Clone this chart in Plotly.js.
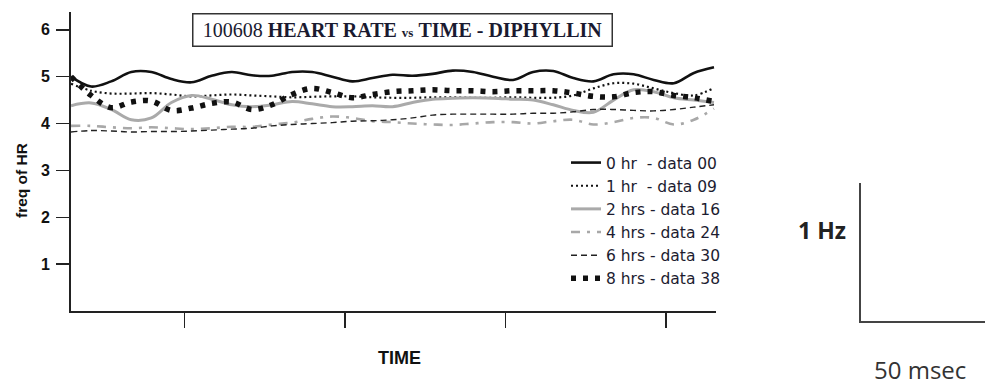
<!DOCTYPE html>
<html>
<head>
<meta charset="utf-8">
<script src="https://cdn.plot.ly/plotly-3.0.1.min.js"></script>
<style>
html,body{margin:0;padding:0;background:#fff;}
#chart{width:985px;height:385px;}
</style>
</head>
<body>
<div id="chart"></div>
<script>
// time samples (arbitrary units)
const time = [0,1,2,3,4,5,6,7,8,9,10,11,12,13,14,15,16,17,18,19,20,21,22,23,24,25,26,27,28,29,30,31,32];
const timeTicks = [5.66, 13.64, 21.62, 29.6];

const seriesNames = ["0 hr\u00a0\u00a0- data 00","1 hr\u00a0\u00a0- data 09","2 hrs - data 16","4 hrs - data 24","6 hrs - data 30","8 hrs - data 38"];

const hr0 = [5.0,4.79,4.9,5.1,5.1,4.95,4.88,5.02,5.1,5.03,5.02,5.1,5.1,5.0,4.9,4.97,5.04,5.02,5.06,5.13,5.1,5.0,4.93,5.1,5.12,4.97,4.9,5.05,5.05,4.93,4.86,5.08,5.2];
const hr1 = [4.85,4.7,4.64,4.64,4.65,4.62,4.58,4.6,4.62,4.6,4.58,4.56,4.57,4.58,4.58,4.56,4.55,4.55,4.56,4.56,4.55,4.55,4.56,4.55,4.55,4.6,4.75,4.86,4.85,4.75,4.65,4.6,4.76];
const hr2 = [4.38,4.44,4.3,4.08,4.12,4.45,4.6,4.52,4.4,4.36,4.4,4.47,4.42,4.36,4.36,4.38,4.36,4.45,4.52,4.54,4.55,4.54,4.52,4.5,4.4,4.28,4.24,4.5,4.72,4.68,4.55,4.5,4.45];
const hr4 = [3.95,3.95,3.92,3.9,3.92,3.9,3.88,3.9,3.93,3.93,3.98,4.02,4.1,4.15,4.12,4.05,4.03,4.0,3.98,3.97,4.0,4.03,4.03,4.0,4.05,4.08,3.98,4.03,4.12,4.12,3.98,4.08,4.32];
const hr6 = [3.82,3.85,3.84,3.82,3.83,3.83,3.84,3.86,3.88,3.9,3.95,3.98,4.0,4.02,4.05,4.06,4.08,4.12,4.18,4.2,4.2,4.2,4.2,4.22,4.22,4.25,4.3,4.3,4.28,4.27,4.3,4.35,4.4];
const hr8 = [5.0,4.6,4.34,4.46,4.48,4.28,4.33,4.43,4.46,4.3,4.4,4.62,4.75,4.66,4.55,4.62,4.68,4.7,4.72,4.7,4.7,4.68,4.7,4.7,4.7,4.65,4.58,4.57,4.66,4.68,4.6,4.55,4.47];

const yTicks = [1,2,3,4,5,6];

const styles = [
  {color:"#111111", width:2.6, dash:"solid"},
  {color:"#111111", width:2.2, dash:"2px,3px"},
  {color:"#aaaaaa", width:3, dash:"solid"},
  {color:"#a8a8a8", width:2.6, dash:"9px,7px,3px,7px"},
  {color:"#222222", width:1.4, dash:"6px,4px"},
  {color:"#111111", width:5.5, dash:"5px,7px"}
];
const allY = [hr0,hr1,hr2,hr4,hr6,hr8];
const traces = allY.map((y,i)=>({
  x: time, y: y, type:"scatter", mode:"lines", name: seriesNames[i],
  line: Object.assign({shape:"spline", smoothing:1}, styles[i]),
  hoverinfo:"skip"
}));

const px = v => (v-71)/645;   // helper for paper x
const py = v => (311-v)/299;  // helper for paper y

const ann = (x, y, text, font, extra) => Object.assign({
  xref:"paper", yref:"paper", x:px(x), y:py(y), xanchor:"center", yanchor:"middle",
  showarrow:false, text:text, font:font}, extra||{});

const layout = {
  width:985, height:385,
  margin:{l:71, r:269, t:12, b:74},
  paper_bgcolor:"#fff", plot_bgcolor:"#fff",
  showlegend:true,
  legend:{x:px(566), y:py(146), xanchor:"left", yanchor:"top",
    bgcolor:"rgba(0,0,0,0)", font:{family:"DejaVu Sans, Liberation Sans, Arial", size:15.5, color:"#1c1c30"},
    tracegroupgap:0, itemwidth:30},
  xaxis:{range:[0,32.1], showgrid:false, zeroline:false, showline:true, linecolor:"#222", linewidth:2,
    ticks:"outside", ticklen:15, tickwidth:1.5, tickcolor:"#222", tickvals:timeTicks, showticklabels:false,
    title:{text:""}},
  yaxis:{range:[0,6.38], showgrid:false, zeroline:false, showline:true, linecolor:"#222", linewidth:2,
    ticks:"outside", ticklen:13, tickwidth:1.5, tickcolor:"#222", tickvals:yTicks,
    ticktext:yTicks.map(v=>"<b>"+v+"</b>"), ticklabelstandoff:3,
    tickfont:{family:"Liberation Sans, Arial", size:16, color:"#111"}, title:{text:""}},
  annotations:[
    ann(402, 30.5, "100608 <b>HEART RATE</b> <span style='font-size:13px'><b>vs</b></span> <b>TIME - DIPHYLLIN</b>",
      {family:"Liberation Serif, DejaVu Serif, serif", size:20, color:"#1a1a30"},
      {bordercolor:"#333", borderwidth:1.5, borderpad:4, bgcolor:"#fff", width:410, height:23}),
    ann(21, 181, "<b>freq of HR</b>", {family:"Liberation Sans, Arial", size:15.5, color:"#111"}, {textangle:-90}),
    ann(400, 358, "<b>TIME</b>", {family:"Liberation Sans Narrow, Liberation Sans, Arial", size:18, color:"#111"}),
    ann(822, 230, "<b>1 Hz</b>", {family:"Open Sans, Liberation Sans", size:23, color:"#222"}),
    ann(920, 369, "50 msec", {family:"Open Sans, Liberation Sans", size:24, color:"#333"})
  ],
  shapes:[
    {type:"line", xref:"paper", yref:"paper", x0:px(860), x1:px(860), y0:py(183), y1:py(322), line:{color:"#444", width:2}},
    {type:"line", xref:"paper", yref:"paper", x0:px(859), x1:px(985), y0:py(322), y1:py(322), line:{color:"#444", width:2}}
  ]
};

Plotly.newPlot("chart", traces, layout, {displayModeBar:false, staticPlot:true});
</script>
</body>
</html>
